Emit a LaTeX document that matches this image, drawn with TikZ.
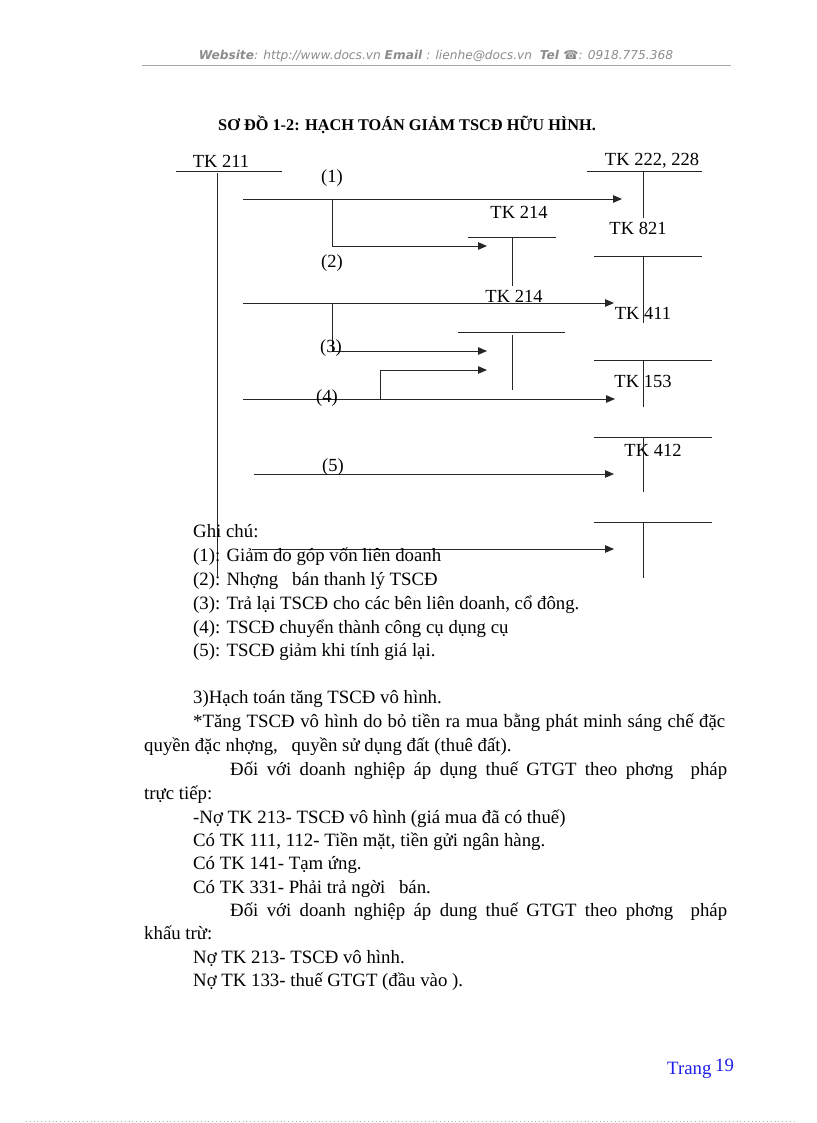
\documentclass[tikz,border=0pt]{standalone}
\usepackage{fontspec}
\setmainfont{Liberation Serif}
\newfontfamily\hdrfont{DejaVu Sans}
\usetikzlibrary{arrows.meta}
\definecolor{pgblue}{RGB}{30,30,235}
\begin{document}
\begin{tikzpicture}[x=1pt,y=-1pt,
  ln/.style={line width=0.9pt, draw=black!85},
  arr/.style={ln,-{Triangle[length=9pt,width=7.5pt]}},
  tk/.style={font=\fontsize{18.5}{22}\selectfont, inner sep=0pt},
  body/.style={font=\fontsize{18.8}{22}\selectfont, inner sep=0pt, anchor=base west},
]
\useasboundingbox (0,0) rectangle (816,1123);
\fill[white] (0,0) rectangle (816,1123);

% header
\node[inner sep=0pt, text=black!45, font=\hdrfont\itshape\fontsize{12.2}{14}\selectfont] (hdr) at (436,56)
  {\textbf{Website}: http://www.docs.vn \textbf{Email} : lienhe@docs.vn \ \textbf{Tel ☎}: 0918.775.368};
\coordinate (hl) at (142,65); \coordinate (hr) at (731,65);
\draw[gray!70, line width=0.6pt] (hl) -- (hr);

% title
\node[font=\bfseries\fontsize{16.3}{19}\selectfont, anchor=base west, inner sep=0pt] (title) at (218,131)
  {SƠ ĐỒ 1-2: HẠCH TOÁN GIẢM TSCĐ HỮU HÌNH.};

% T accounts
\node[tk] (t211) at (221,161) {TK 211};
\coordinate (t211l) at (176,171); \coordinate (t211r) at (282,171);
\coordinate (t211t) at (217,173); \coordinate (t211b) at (217,576);
\draw[ln] (t211l) -- (t211r); \draw[ln] (t211t) -- (t211b);

\node[tk] (t222) at (652,161) {TK 222, 228};
\coordinate (t222l) at (587,171); \coordinate (t222r) at (702,171);
\coordinate (t222t) at (643,171); \coordinate (t222b) at (643,218);
\draw[ln] (t222l) -- (t222r); \draw[ln] (t222t) -- (t222b);

\node[tk] (t214a) at (519,212) {TK 214};
\coordinate (t214al) at (468,237); \coordinate (t214ar) at (556,237);
\coordinate (t214at) at (512,237); \coordinate (t214ab) at (512,286);
\draw[ln] (t214al) -- (t214ar); \draw[ln] (t214at) -- (t214ab);

\node[tk] (t821) at (638,228) {TK 821};
\coordinate (t821l) at (594,256); \coordinate (t821r) at (702,256);
\coordinate (t821t) at (643,256); \coordinate (t821b) at (643,323);
\draw[ln] (t821l) -- (t821r);

\node[tk] (t214b) at (514,296) {TK 214};
\coordinate (t214bl) at (458,332); \coordinate (t214br) at (565,332);
\coordinate (t214bt) at (512,335); \coordinate (t214bb) at (512,390);
\draw[ln] (t214bl) -- (t214br); \draw[ln] (t214bt) -- (t214bb);

\node[tk] (t411) at (643,313) {TK 411};
\draw[ln] (t821t) -- (t821b);

\node[tk] (t153) at (643,381) {TK 153};
\coordinate (t153l) at (594,360); \coordinate (t153r) at (712,360);
\coordinate (t153t) at (643,360); \coordinate (t153b) at (643,407);
\draw[ln] (t153l) -- (t153r); \draw[ln] (t153t) -- (t153b);

\node[tk] (t412) at (653,450) {TK 412};
\coordinate (t412l) at (594,437); \coordinate (t412r) at (712,437);
\coordinate (t412t) at (643,437); \coordinate (t412b) at (643,492);
\draw[ln] (t412l) -- (t412r); \draw[ln] (t412t) -- (t412b);

\coordinate (t6l) at (594,522); \coordinate (t6r) at (712,522);
\coordinate (t6t) at (643,522); \coordinate (t6b) at (643,578);
\draw[ln] (t6l) -- (t6r); \draw[ln] (t6t) -- (t6b);

% arrows
\coordinate (a1s) at (243,199); \coordinate (a1e) at (622,199);
\draw[arr] (a1s) -- (a1e);
\coordinate (b1s) at (332,199); \coordinate (b1e) at (487,246);
\draw[arr] (b1s) |- (b1e);

\coordinate (a2s) at (243,303); \coordinate (a2e) at (614,303);
\draw[arr] (a2s) -- (a2e);
\coordinate (b2s) at (332,303); \coordinate (b2e) at (487,351);
\draw[arr] (b2s) |- (b2e);

\coordinate (a4s) at (243,399); \coordinate (a4e) at (615,399);
\draw[arr] (a4s) -- (a4e);
\coordinate (b4s) at (380,399); \coordinate (b4e) at (487,370);
\draw[arr] (b4s) |- (b4e);

\coordinate (a5s) at (254,474); \coordinate (a5e) at (614,474);
\draw[arr] (a5s) -- (a5e);

\coordinate (a6s) at (252,549); \coordinate (a6e) at (614,549);
\draw[arr] (a6s) -- (a6e);

% arrow labels
\node[tk] (l1) at (332,178) {(1)};
\node[tk] (l2) at (332,263) {(2)};
\node[tk] (l3) at (331,348) {(3)};
\node[tk] (l4) at (327,398) {(4)};
\node[tk] (l5) at (333,467) {(5)};

% notes
\node[body] (g0) at (193,537) {Ghi chú:};
\node[body] (g1) at (193,561) {(1): Giảm do góp vốn liên doanh};
\node[body] (g2) at (193,585) {(2): Nhợng\hspace{9pt} bán thanh lý TSCĐ};
\node[body] (g3) at (193,609) {(3): Trả lại TSCĐ cho các bên liên doanh, cổ đông.};
\node[body] (g4) at (193,633) {(4): TSCĐ chuyển thành công cụ dụng cụ};
\node[body] (g5) at (193,656) {(5): TSCĐ giảm khi tính giá lại.};

% paragraph
\node[body] (p1) at (193,703) {3)Hạch toán tăng TSCĐ vô hình.};
\node[body] (p2) at (193,727) {\makebox[532pt][s]{*Tăng TSCĐ vô hình do bỏ tiền ra mua bằng phát minh sáng chế đặc}};
\node[body] (p3) at (144,751) {quyền đặc nhợng,\hspace{9pt} quyền sử dụng đất (thuê đất).};
\node[body] (p4) at (230,775) {\makebox[497pt][s]{Đối với doanh nghiệp áp dụng thuế GTGT theo phơng\hspace{9pt} pháp}};
\node[body] (p5) at (144,799) {trực tiếp:};
\node[body] (p6) at (193,823) {-Nợ TK 213- TSCĐ vô hình (giá mua đã có thuế)};
\node[body] (p7) at (193,846) {Có TK 111, 112- Tiền mặt, tiền gửi ngân hàng.};
\node[body] (p8) at (193,869) {Có TK 141- Tạm ứng.};
\node[body] (p9) at (193,893) {Có TK 331- Phải trả ngời\hspace{9pt} bán.};
\node[body] (p10) at (230,916) {\makebox[497pt][s]{Đối với doanh nghiệp áp dung thuế GTGT theo phơng\hspace{9pt} pháp}};
\node[body] (p11) at (144,939) {khấu trừ:};
\node[body] (p12) at (193,963) {Nợ TK 213- TSCĐ vô hình.};
\node[body] (p13) at (193,986) {Nợ TK 133- thuế GTGT (đầu vào ).};

% footer
\node[body, text=pgblue] (trang) at (667,1074) {Trang};
\node[body, text=pgblue] (pgno) at (715,1071) {19};
\coordinate (dl) at (26,1121); \coordinate (dr) at (796,1121);
\draw[gray!60, line width=0.5pt, dash pattern=on 0.8pt off 3pt] (dl) -- (dr);
\end{tikzpicture}
\end{document}
